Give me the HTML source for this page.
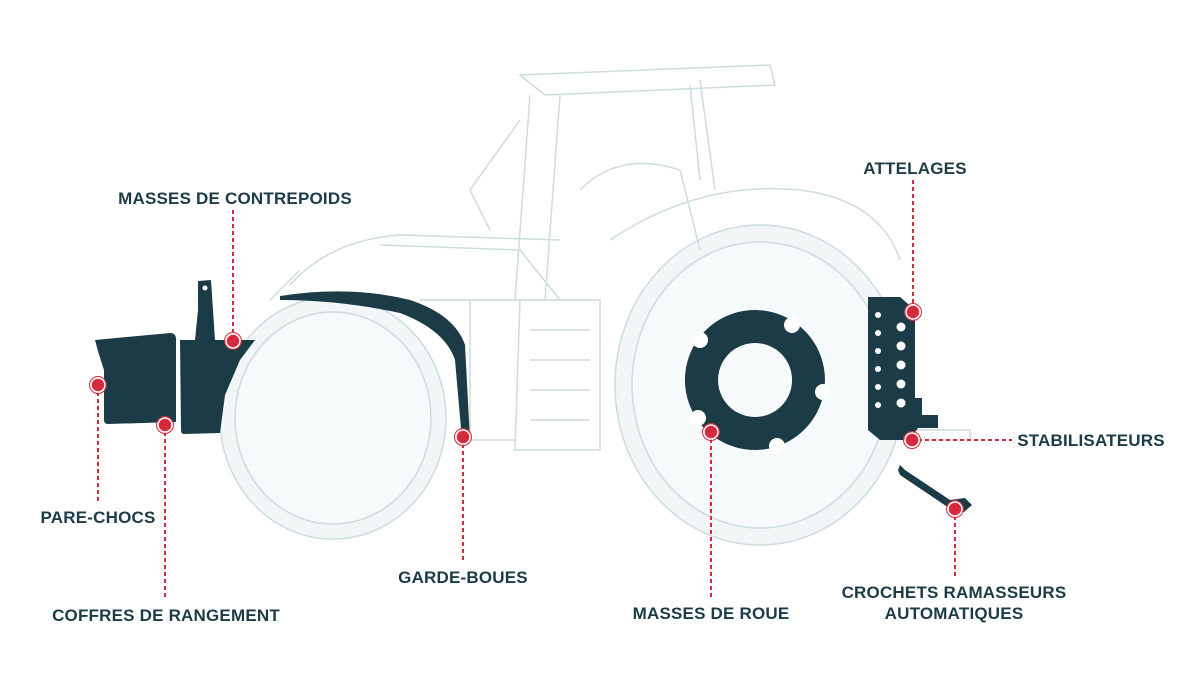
<!DOCTYPE html>
<html><head><meta charset="utf-8"><style>
html,body{margin:0;padding:0;background:#fff;}
svg{display:block}
text{font-family:"Liberation Sans",sans-serif;font-weight:bold;font-size:17px;fill:#1b3b46;text-anchor:middle;letter-spacing:0.2px}
</style></head><body>
<svg width="1200" height="690" viewBox="0 0 1200 690" xmlns="http://www.w3.org/2000/svg">
<g fill="none" stroke="#cddcde" stroke-width="1.5">
 <ellipse cx="760" cy="385" rx="145" ry="160" fill="#f2f6f6"/>
 <ellipse cx="760" cy="385" rx="128" ry="143" fill="#f7fafa"/>
 <ellipse cx="333" cy="418" rx="113" ry="121" fill="#f2f6f6"/>
 <ellipse cx="333" cy="418" rx="98" ry="106" fill="#f7fafa"/>
 <path d="M520 75 L770 65 L775 85 L545 95 Z"/>
 <path d="M530 95 L515 300 M560 95 L545 300 M700 80 L715 190 M690 85 L700 180"/>
 <path d="M520 120 L470 190 L490 230"/>
 <path d="M290 285 Q330 240 400 235 L560 240 M380 245 L520 250 L560 300"/>
 <path d="M270 300 L300 270 M420 300 L560 300"/>
 <path d="M520 300 L600 300 L600 450 L515 450 Z" fill="#fff"/>
 <path d="M530 330 L590 330 M530 360 L590 360 M530 390 L590 390 M530 420 L590 420"/>
 <path d="M610 240 Q700 180 800 190 Q880 200 900 260"/>
 <path d="M470 300 L470 440 L515 440"/>
 <path d="M900 430 L970 430 L970 440 L930 440"/>
 <path d="M580 190 Q620 150 680 170 L700 250"/>
</g>
<g fill="#1b3b46">
 <path d="M95 340 L170 333 Q176 333 176 339 L176 422 L108 424 Q104 424 104 420 L104 370 Q98 352 95 340 Z"/>
 <path d="M180 340 L195 340 L198 310 L198 281 L211 280 L215 340 L255 340 L240 360 L225 395 L220 433 L184 434 Q181 434 181 430 Z"/>
 <path d="M280 296 Q350 285 410 300 Q455 315 465 345 L470 440 L462 440 L455 360 Q445 330 400 313 Q340 300 280 300 Z"/>
 <path d="M868 297 L900 297 L915 310 L915 398 L922 398 L922 415 L938 415 L938 428 L918 428 L910 440 L880 440 L868 430 Z"/>
 <path d="M900 465 L905 470 L950 500 L965 498 L972 505 L964 512 L955 512 L900 475 L898 470 Z"/>
 <path fill-rule="evenodd" d="M755 310 A70 70 0 1 1 754.9 310 Z M755 343 A37 37 0 1 0 755.1 343 Z"/>
</g>
<g fill="#fff">
 <circle cx="205" cy="288" r="2.5"/>
 <circle cx="901" cy="327" r="4.5"/><circle cx="901" cy="346" r="4.5"/><circle cx="901" cy="365" r="4.5"/><circle cx="901" cy="384" r="4.5"/><circle cx="901" cy="403" r="4.5"/>
 <circle cx="878" cy="315" r="3"/><circle cx="878" cy="333" r="3"/><circle cx="878" cy="351" r="3"/><circle cx="878" cy="369" r="3"/><circle cx="878" cy="387" r="3"/><circle cx="878" cy="405" r="3"/>
 <circle cx="792" cy="325" r="8"/><circle cx="823" cy="392" r="8"/><circle cx="777" cy="446" r="8"/><circle cx="698" cy="418" r="8"/><circle cx="700" cy="340" r="8"/>
</g>
<g stroke="#d42a3c" stroke-width="2" stroke-dasharray="4,3" fill="none">
 <line x1="233" y1="210" x2="233" y2="335"/>
 <line x1="98" y1="392" x2="98" y2="503"/>
 <line x1="165" y1="432" x2="165" y2="600"/>
 <line x1="463" y1="444" x2="463" y2="563"/>
 <line x1="711" y1="439" x2="711" y2="598"/>
 <line x1="913" y1="180" x2="913" y2="305"/>
 <line x1="918" y1="440" x2="1012" y2="440"/>
 <line x1="955" y1="516" x2="955" y2="577"/>
</g>
<g>
 <g fill="#d42a3c" stroke="#fff" stroke-width="1.5">
 <circle cx="233" cy="341" r="7"/><circle cx="98" cy="385" r="7"/><circle cx="165" cy="425" r="7"/><circle cx="463" cy="437" r="7"/><circle cx="711" cy="432" r="7"/><circle cx="913" cy="312" r="7"/><circle cx="912" cy="440" r="7"/><circle cx="955" cy="509" r="7"/>
 </g>
 <g fill="none" stroke="#d42a3c" stroke-width="1">
 <circle cx="233" cy="341" r="8.5"/><circle cx="98" cy="385" r="8.5"/><circle cx="165" cy="425" r="8.5"/><circle cx="463" cy="437" r="8.5"/><circle cx="711" cy="432" r="8.5"/><circle cx="913" cy="312" r="8.5"/><circle cx="912" cy="440" r="8.5"/><circle cx="955" cy="509" r="8.5"/>
 </g>
</g>
<text x="235" y="204">MASSES DE CONTREPOIDS</text>
<text x="915" y="174">ATTELAGES</text>
<text x="98" y="523">PARE-CHOCS</text>
<text x="166" y="621">COFFRES DE RANGEMENT</text>
<text x="463" y="583">GARDE-BOUES</text>
<text x="711" y="619">MASSES DE ROUE</text>
<text x="1091" y="446">STABILISATEURS</text>
<text x="954" y="598">CROCHETS RAMASSEURS</text>
<text x="954" y="619">AUTOMATIQUES</text>
</svg>
</body></html>
